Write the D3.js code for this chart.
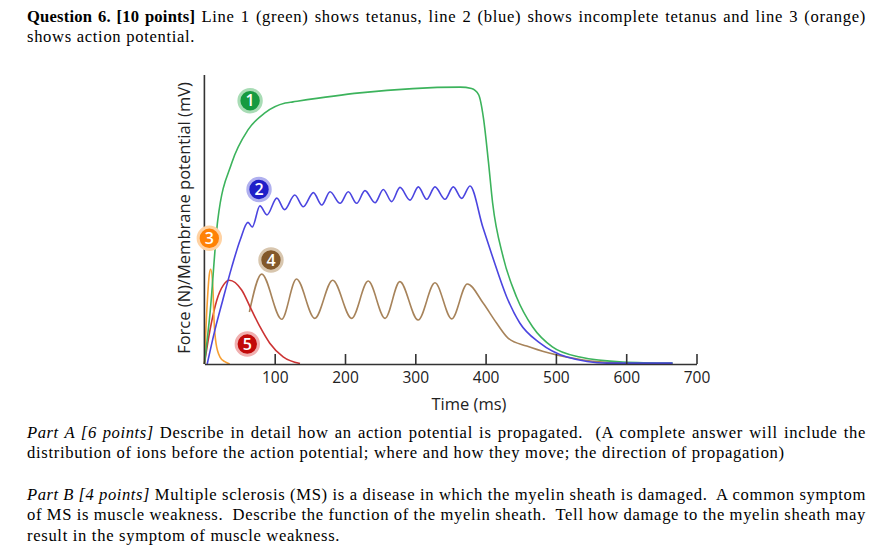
<!DOCTYPE html>
<html><head><meta charset="utf-8">
<script src="https://cdn.jsdelivr.net/npm/d3@7"></script>
<style>body{margin:0;background:#fff;} svg{display:block;}</style>
</head><body>
<svg id="c" width="889" height="554"></svg>
<script>
// ---- data (time in ms, value in arbitrary units 0-100) ----
const xTicks = [100, 200, 300, 400, 500, 600, 700];
const greenT = [0, 8, 19, 39, 62, 86, 115, 126, 221, 364, 380, 390, 397, 404, 410, 425, 444, 467, 495, 534, 595, 666];
const greenV = [0, 17.6, 49.8, 69.6, 81, 86.9, 90.3, 90.7, 93.8, 95.8, 95.3, 93.2, 85, 70, 55.7, 37, 23.2, 12.8, 5.9, 2.4, 0.7, 0.3];
const blueT = [4, 15, 26, 39, 51, 62, 68, 79, 89, 103, 114, 128.5, 140.7, 155, 167, 178.7, 193, 204.7, 216.6, 228.4, 242.7, 254.5, 266.4, 278.2, 292.5, 304.3, 316.2, 328, 342.2, 354, 366, 377.8, 396, 410, 430, 448.6, 477, 515.8, 572.8, 666];
const blueV = [0, 11.8, 22, 33.6, 43, 49, 47.4, 54.7, 51.6, 57.4, 53.4, 58.5, 54.4, 59.3, 55, 59.6, 55.6, 59.6, 55.6, 60, 55.8, 60.4, 56.2, 61.1, 56.7, 61.3, 57, 61.3, 57, 61.3, 57.3, 61.6, 47.4, 37, 23.2, 14.2, 7.3, 2.4, 0.3, 0.3];
const brownT = [64, 81.5, 110, 131, 157, 182.5, 209.5, 233, 257, 278, 304, 328, 351.8, 374, 396.7, 415.8, 432.3, 458.5, 491.6, 539, 595];
const brownV = [18, 31.1, 15.5, 29.4, 15.8, 29, 15.8, 28.7, 15.8, 28.5, 15.2, 28.1, 15.6, 27.7, 21, 14.1, 8.9, 6.2, 3.7, 1.4, 0.3];
const redT = [0, 8, 17.5, 27, 35.4, 53, 67, 79, 93, 112, 136];
const redV = [0, 11.8, 22, 27.3, 29, 25.6, 18.7, 12.9, 7.2, 2.5, 0.2];
const orangeT = [0, 4, 7, 9, 12, 13.7, 16.5, 22, 29, 36];
const orangeV = [0, 21, 31, 32.8, 26.7, 15.2, 7.2, 2.5, 0.8, 0];
const badgeLabels = ["1", "2", "3", "4", "5"];
const badgeT = [65, 77.7, 7, 94.7, 61];
const badgeV = [91.1, 60.4, 43.5, 36, 6.9];

const titleLines = [
  [[{b:1,t:"Question 6. [10 points]"},{t:" Line 1 (green) shows tetanus, line 2 (blue) shows incomplete tetanus and line 3 (orange)"}], true],
  [[{t:"shows action potential."}], false]
];
const partLines = [
  [[{i:1,t:"Part A [6 points]"},{t:" Describe in detail how an action potential is propagated.  (A complete answer will include the"}], true],
  [[{t:"distribution of ions before the action potential; where and how they move; the direction of propagation)"}], false],
  [[{i:1,t:"Part B [4 points]"},{t:" Multiple sclerosis (MS) is a disease in which the myelin sheath is damaged.  A common symptom"}], true],
  [[{t:"of MS is muscle weakness.  Describe the function of the myelin sheath.  Tell how damage to the myelin sheath may"}], true],
  [[{t:"result in the symptom of muscle weakness."}], false]
];

// ---- drawing ----
const svg = d3.select("#c");
const x = d3.scaleLinear().domain([0, 700]).range([204.4, 696.5]);
const y = d3.scaleLinear().domain([0, 100]).range([364, 75]);

function zip(ts, vs){ return ts.map((t,i)=>[t, vs[i]]); }
const line = d3.line().x(d=>x(d[0])).y(d=>y(d[1])).curve(d3.curveMonotoneX);

const series = [
  {d: zip(brownT, brownV), c: "#a7835a"},
  {d: zip(redT, redV), c: "#cc3333"},
  {d: zip(orangeT, orangeV), c: "#f7a035"},
  {d: zip(greenT, greenV), c: "#3cb35c"},
  {d: zip(blueT, blueV), c: "#4b45e0"}
];
svg.append("g").selectAll("path").data(series).join("path")
  .attr("d", s=>line(s.d)).attr("fill","none").attr("stroke", s=>s.c).attr("stroke-width",1.6);

// axes
svg.append("line").attr("x1", x(0)).attr("x2", x(0)).attr("y1", y(100)).attr("y2", y(0))
  .attr("stroke","#333").attr("stroke-width",1.6);
const ax = svg.append("g").attr("transform", `translate(0,${y(0)})`)
  .call(d3.axisBottom(x).tickValues(xTicks).tickSizeInner(-10).tickSizeOuter(0).tickPadding(8));
ax.select(".domain").attr("stroke","#333").attr("stroke-width",1.6);
ax.selectAll(".tick line").attr("stroke","#333").attr("stroke-width",1.6);
ax.selectAll(".tick text").attr("font-family","'Open Sans'").attr("font-size",15.5).attr("fill","#222");

svg.append("text").attr("x", 469).attr("y", 410).attr("text-anchor","middle")
  .attr("font-family","'Open Sans'").attr("font-size",16.5).attr("fill","#222").text("Time (ms)");
svg.append("text").attr("transform","translate(190,218) rotate(-90)").attr("text-anchor","middle")
  .attr("font-family","'Open Sans'").attr("font-size",16.5).attr("fill","#222").text("Force (N)/Membrane potential (mV)");

// badges
const badgeFill = ["#169a40", "#1f1fc8", "#ff8205", "#82582a", "#c20a0a"];
const badgeHalo = ["#a8dcb5", "#b0b0ef", "#ffd2a3", "#d8c6ae", "#f0b0b0"];
const bg = svg.append("g").selectAll("g").data(badgeLabels).join("g")
  .attr("transform", (d,i)=>`translate(${x(badgeT[i])},${y(badgeV[i])})`);
bg.append("circle").attr("r", 11.2).attr("fill", (d,i)=>badgeFill[i])
  .attr("stroke", (d,i)=>badgeHalo[i]).attr("stroke-width", 3);
bg.append("text").attr("text-anchor","middle").attr("dy","0.36em")
  .attr("font-family","'Open Sans'").attr("font-weight",600).attr("font-size",16).attr("fill","#fff").text(d=>d);

// paragraphs
const L = 27, R = 866;
function drawLines(lines, y0, gap, extraGaps){
  let yy = y0;
  lines.forEach((ln, k)=>{
    if (extraGaps && extraGaps[k]) yy += extraGaps[k];
    const t = svg.append("text").attr("x", L).attr("y", yy)
      .attr("font-family","'Liberation Serif','Times New Roman',serif").attr("font-size",16.6).attr("fill","#000")
      .attr("xml:space","preserve").style("white-space","pre");
    ln[0].forEach(p=>{
      const ts = t.append("tspan").text(p.t);
      if (p.b) ts.attr("font-weight","bold").attr("letter-spacing", 0.2);
      else if (p.i) ts.attr("font-style","italic").attr("letter-spacing", 0.55);
      else ts.attr("letter-spacing", 0.68);
    });
    if (ln[1]) {
      const full = ln[0].map(p=>p.t).join("");
      const n = (full.match(/ /g)||[]).length;
      const w = t.node().getComputedTextLength();
      const ws = (R - L - w) / n;
      t.attr("word-spacing", ws.toFixed(3));
    }
    yy += gap;
  });
}
drawLines(titleLines, 22, 20);
drawLines(partLines, 437.5, 20.5, {2: 21});
</script>
</body></html>
